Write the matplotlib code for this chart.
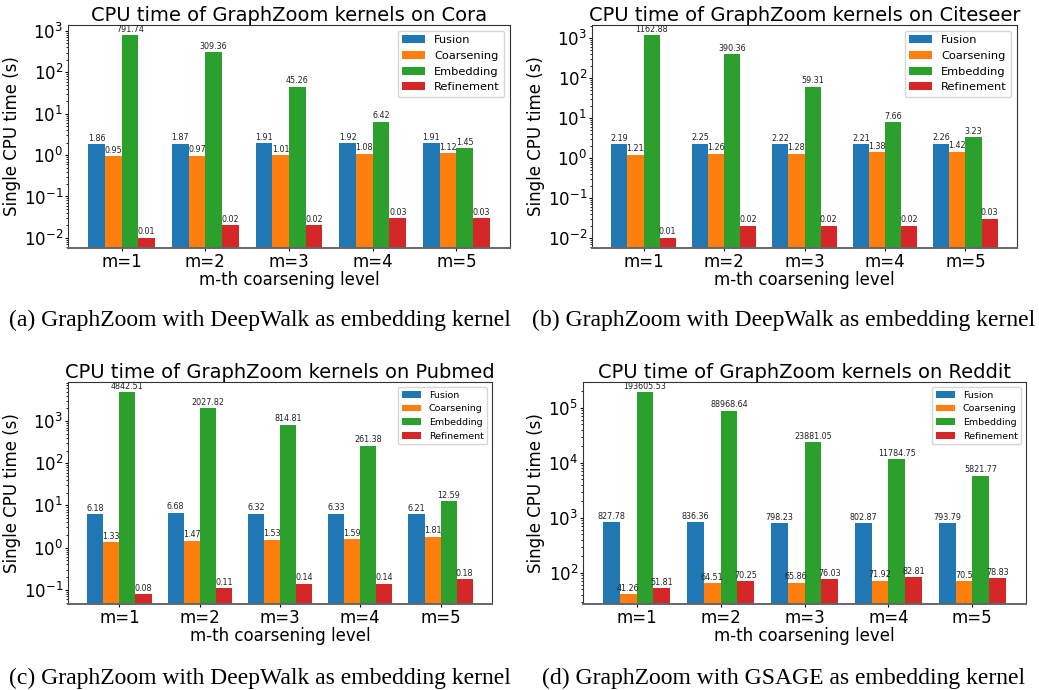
import numpy as np
import matplotlib
matplotlib.use("Agg")
import matplotlib.pyplot as plt

levels = ["m=1", "m=2", "m=3", "m=4", "m=5"]
kernels = ["Fusion", "Coarsening", "Embedding", "Refinement"]
colors = ["#1f77b4", "#ff7f0e", "#2ca02c", "#d62728"]

# Cora (DeepWalk)
cora_fusion = [1.86, 1.87, 1.91, 1.92, 1.91]
cora_coarsening = [0.95, 0.97, 1.01, 1.08, 1.12]
cora_embedding = [791.74, 309.36, 45.26, 6.42, 1.45]
cora_refinement = [0.01, 0.02, 0.02, 0.03, 0.03]

# Citeseer (DeepWalk)
citeseer_fusion = [2.19, 2.25, 2.22, 2.21, 2.26]
citeseer_coarsening = [1.21, 1.26, 1.28, 1.38, 1.42]
citeseer_embedding = [1162.88, 390.36, 59.31, 7.66, 3.23]
citeseer_refinement = [0.01, 0.02, 0.02, 0.02, 0.03]

# Pubmed (DeepWalk)
pubmed_fusion = [6.18, 6.68, 6.32, 6.33, 6.21]
pubmed_coarsening = [1.33, 1.47, 1.53, 1.59, 1.81]
pubmed_embedding = [4842.51, 2027.82, 814.81, 261.38, 12.59]
pubmed_refinement = [0.08, 0.11, 0.14, 0.14, 0.18]

# Reddit (GSAGE)
reddit_fusion = [827.78, 836.36, 798.23, 802.87, 793.79]
reddit_coarsening = [41.26, 64.51, 65.86, 71.92, 70.5]
reddit_embedding = [193605.53, 88968.64, 23881.05, 11784.75, 5821.77]
reddit_refinement = [51.81, 70.25, 76.03, 82.81, 78.83]

W, H = 1039, 690
fig = plt.figure(figsize=(W / 100, H / 100), dpi=100)


def rect(l, t, r, b):
    return [l / W, 1 - b / H, (r - l) / W, (b - t) / H]


panels = [
    ("Cora", [cora_fusion, cora_coarsening, cora_embedding, cora_refinement],
     (68, 25, 510, 248), 8.2, "(a) GraphZoom with DeepWalk as embedding kernel", (260, 320)),
    ("Citeseer", [citeseer_fusion, citeseer_coarsening, citeseer_embedding, citeseer_refinement],
     (592, 25, 1017, 248), 8.2, "(b) GraphZoom with DeepWalk as embedding kernel", (784, 320)),
    ("Pubmed", [pubmed_fusion, pubmed_coarsening, pubmed_embedding, pubmed_refinement],
     (68, 382, 492, 604), 6.8, "(c) GraphZoom with DeepWalk as embedding kernel", (260, 678)),
    ("Reddit", [reddit_fusion, reddit_coarsening, reddit_embedding, reddit_refinement],
     (583, 382, 1026, 604), 6.8, "(d) GraphZoom with GSAGE as embedding kernel", (784, 678)),
]

x = np.arange(len(levels))
width = 0.2

for name, series, box, legsize, caption, cpos in panels:
    ax = fig.add_axes(rect(*box))
    for i, (vals, lab, col) in enumerate(zip(series, kernels, colors)):
        pos = x + (i - 1.5) * width
        bars = ax.bar(pos, vals, width, label=lab, color=col)
        for b, v in zip(bars, vals):
            ax.annotate(str(v), (b.get_x() + b.get_width() / 2, v),
                        xytext=(0, 1), textcoords="offset points",
                        ha="center", va="bottom", fontsize=5.8, color="#222222")
    ax.set_yscale("log")
    allv = np.concatenate([np.array(s) for s in series])
    lo, hi = np.log10(allv.min()), np.log10(allv.max())
    m = 0.05 * (hi - lo)
    ax.set_ylim(10 ** (lo - m), 10 ** (hi + m))
    ax.set_xticks(x)
    ax.set_xticklabels(levels, fontsize=12)
    ax.tick_params(axis="both", which="major", length=2, pad=1.5, labelsize=12)
    ax.tick_params(axis="y", which="minor", length=1.2)
    for sp in ax.spines.values():
        sp.set_color("#333333")
    ax.spines["bottom"].set_color("#666666")
    ax.spines["bottom"].set_linewidth(1.4)
    ax.set_xlabel("m-th coarsening level", fontsize=12, labelpad=0)
    ax.set_ylabel("Single CPU time (s)", fontsize=12, labelpad=2)
    ax.set_title("CPU time of GraphZoom kernels on " + name, fontsize=14, pad=2)
    ax.legend(loc="upper right", fontsize=legsize)
    fig.text(cpos[0] / W, 1 - cpos[1] / H, caption, ha="center", va="center",
             fontsize=17, family="Liberation Serif")

fig.savefig("out.png", dpi=100)
